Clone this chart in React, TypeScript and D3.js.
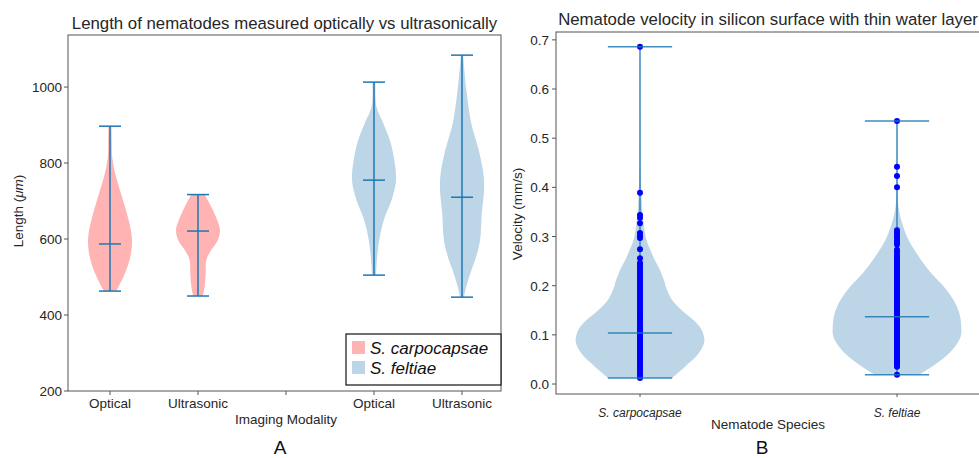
import React, { useEffect, useRef } from 'react';
import * as d3 from 'd3';

// Panel A: nematode length (um), violins at positions 1,2,4,5
const lengthTickLabels = ['Optical', 'Ultrasonic', '', 'Optical', 'Ultrasonic'];
const lengthPositions = [1, 2, 4, 5];
const lengthSpecies = ['S. carpocapsae', 'S. carpocapsae', 'S. feltiae', 'S. feltiae'];
const lengthMin = [463, 450, 505, 447];
const lengthMax = [897, 717, 1013, 1084];
const lengthMean = [587, 621, 755, 710];
// density profiles: [value, relative half width]
const optCarpoProfile: [number, number][] = [[463, 0.27], [474, 0.38], [510, 0.68], [553, 0.92], [597, 1], [642, 0.88], [685, 0.68], [729, 0.45], [773, 0.23], [816, 0.1], [860, 0.08], [897, 0.07]];
const usCarpoProfile: [number, number][] = [[450, 0.22], [474, 0.3], [510, 0.35], [545, 0.38], [571, 0.6], [597, 0.9], [624, 1], [650, 0.87], [685, 0.6], [717, 0.3]];
const optFeltiaeProfile: [number, number][] = [[505, 0.09], [563, 0.16], [616, 0.3], [659, 0.5], [703, 0.8], [755, 1], [816, 0.9], [860, 0.72], [905, 0.42], [948, 0.11], [1013, 0.07]];
const usFeltiaeProfile: [number, number][] = [[447, 0.09], [474, 0.19], [510, 0.38], [553, 0.64], [597, 0.82], [668, 0.9], [729, 1], [773, 0.97], [834, 0.76], [905, 0.42], [992, 0.2], [1084, 0.05]];
const lengthProfiles = [optCarpoProfile, usCarpoProfile, optFeltiaeProfile, usFeltiaeProfile];
const lengthYTicks = [200, 400, 600, 800, 1000];

// Panel B: velocity (mm/s)
const speciesNames = ['S. carpocapsae', 'S. feltiae'];
const velocityMin = [0.012, 0.019];
const velocityMax = [0.686, 0.535];
const velocityMean = [0.104, 0.137];
const carpoProfile: [number, number][] = [[0.012, 0.5], [0.035, 0.7], [0.062, 0.91], [0.086, 1], [0.11, 0.96], [0.13, 0.83], [0.15, 0.65], [0.171, 0.5], [0.191, 0.42], [0.212, 0.37], [0.232, 0.31], [0.252, 0.23], [0.273, 0.16], [0.293, 0.1], [0.313, 0.07], [0.348, 0.04], [0.388, 0.02], [0.45, 0.008], [0.55, 0.003], [0.686, 0.001]];
const feltiaeProfile: [number, number][] = [[0.019, 0.35], [0.042, 0.62], [0.069, 0.86], [0.096, 0.99], [0.117, 1], [0.144, 0.97], [0.171, 0.88], [0.198, 0.73], [0.226, 0.53], [0.259, 0.34], [0.293, 0.18], [0.327, 0.08], [0.354, 0.03], [0.381, 0.01], [0.42, 0.004], [0.535, 0.001]];
const carpoVelocities = [0.686, 0.389, 0.344, 0.338, 0.327, 0.307, 0.301, 0.297, 0.274, 0.256,
  0.246, 0.242, 0.237, 0.233, 0.229, 0.224, 0.22, 0.215, 0.211, 0.207, 0.202, 0.198, 0.194, 0.189,
  0.185, 0.181, 0.177, 0.172, 0.168, 0.164, 0.159, 0.155, 0.151, 0.146, 0.142, 0.138, 0.134, 0.13,
  0.125, 0.121, 0.117, 0.113, 0.109, 0.105, 0.101, 0.097, 0.093, 0.089, 0.085, 0.081, 0.077, 0.073,
  0.069, 0.065, 0.061, 0.057, 0.053, 0.049, 0.045, 0.041, 0.037, 0.033, 0.029, 0.025, 0.021, 0.017, 0.012];
const feltiaeVelocities = [0.535, 0.442, 0.423, 0.4, 0.313, 0.308, 0.303, 0.298, 0.293, 0.288, 0.284,
  0.273, 0.269, 0.265, 0.26, 0.256, 0.252, 0.247, 0.243, 0.239, 0.234, 0.23, 0.226, 0.222, 0.217,
  0.213, 0.209, 0.204, 0.2, 0.196, 0.191, 0.187, 0.183, 0.179, 0.174, 0.17, 0.166, 0.161, 0.157,
  0.153, 0.149, 0.144, 0.14, 0.136, 0.132, 0.127, 0.123, 0.119, 0.115, 0.11, 0.106, 0.102, 0.098,
  0.093, 0.089, 0.085, 0.081, 0.076, 0.072, 0.068, 0.064, 0.059, 0.055, 0.051, 0.047, 0.043, 0.039, 0.035, 0.019];
const velocityData = [carpoVelocities, feltiaeVelocities];
const velocityProfiles = [carpoProfile, feltiaeProfile];
const velocityYTicks = [0, 0.1, 0.2, 0.3, 0.4, 0.5, 0.6, 0.7];

const FONT = '"Liberation Sans", Arial, sans-serif';
const TXT = '#262626';
const SPINE = '#555';
const LINE = '#1f77b4';
const PINK = '#ffb3b3';
const BLUE = '#bcd6e8';

const App: React.FC = () => {
  const ref = useRef<SVGSVGElement>(null);

  useEffect(() => {
    if (!ref.current) return;
    const svg = d3.select(ref.current);
    svg.selectAll('*').remove();
    svg.style('font-family', FONT);

    const violinPath = (profile: [number, number][], cx: number, hw: number, y: d3.ScaleLinear<number, number>) =>
      d3.area<[number, number]>()
        .y(d => y(d[0]))
        .x0(d => cx - d[1] * hw)
        .x1(d => cx + d[1] * hw)
        .curve(d3.curveCatmullRom.alpha(0.5))(profile);

    // ---------- Panel A ----------
    const aL = 68, aR = 501, aT = 35, aB = 391;
    const xA = d3.scaleLinear().domain([1, 5]).range([110, 462]);
    const yA = d3.scaleLinear().domain([200, 1137]).range([aB, aT]);
    const gA = svg.append('g');
    const hwA = 0.25 * (xA(2) - xA(1));

    lengthPositions.forEach((p, i) => {
      const cx = xA(p);
      const fill = lengthSpecies[i] === 'S. carpocapsae' ? PINK : BLUE;
      gA.append('path').attr('d', violinPath(lengthProfiles[i], cx, hwA, yA)).attr('fill', fill);
      gA.append('line').attr('x1', cx).attr('x2', cx).attr('y1', yA(lengthMin[i])).attr('y2', yA(lengthMax[i]))
        .attr('stroke', LINE).attr('stroke-width', 1.5);
      [lengthMin[i], lengthMax[i], lengthMean[i]].forEach(v => {
        gA.append('line').attr('x1', cx - hwA / 2).attr('x2', cx + hwA / 2).attr('y1', yA(v)).attr('y2', yA(v))
          .attr('stroke', LINE).attr('stroke-width', 1.5);
      });
    });

    gA.append('rect').attr('x', aL).attr('y', aT).attr('width', aR - aL).attr('height', aB - aT)
      .attr('fill', 'none').attr('stroke', SPINE).attr('stroke-width', 1);

    lengthYTicks.forEach(t => {
      gA.append('line').attr('x1', aL - 4).attr('x2', aL).attr('y1', yA(t)).attr('y2', yA(t)).attr('stroke', SPINE);
      gA.append('text').attr('x', aL - 6).attr('y', yA(t) + 5).attr('text-anchor', 'end')
        .style('font-size', '13.5px').attr('fill', TXT).text(t);
    });
    lengthTickLabels.forEach((lab, i) => {
      const x = xA(i + 1);
      gA.append('line').attr('x1', x).attr('x2', x).attr('y1', aB).attr('y2', aB + 4).attr('stroke', SPINE);
      gA.append('text').attr('x', x).attr('y', 408).attr('text-anchor', 'middle')
        .style('font-size', '13.5px').attr('fill', TXT).text(lab);
    });
    gA.append('text').attr('x', 286).attr('y', 424).attr('text-anchor', 'middle')
      .style('font-size', '13.5px').attr('fill', TXT).text('Imaging Modality');
    const yl = gA.append('text').attr('transform', 'translate(23,211) rotate(-90)').attr('text-anchor', 'middle')
      .style('font-size', '13.5px').attr('fill', TXT);
    yl.append('tspan').text('Length (');
    yl.append('tspan').style('font-style', 'italic').text('\u03bcm');
    yl.append('tspan').text(')');
    gA.append('text').attr('x', (aL + aR) / 2).attr('y', 29).attr('text-anchor', 'middle')
      .style('font-size', '16.8px').attr('fill', TXT).text('Length of nematodes measured optically vs ultrasonically');
    gA.append('text').attr('x', 280).attr('y', 454).attr('text-anchor', 'middle')
      .style('font-size', '19px').attr('fill', '#111').text('A');

    // legend
    const lg = gA.append('g');
    lg.append('rect').attr('x', 346).attr('y', 334).attr('width', aR - 346).attr('height', 51)
      .attr('fill', 'white').attr('stroke', '#111').attr('stroke-width', 1.2);
    [['S. carpocapsae', PINK], ['S. feltiae', BLUE]].forEach(([name, col], i) => {
      lg.append('rect').attr('x', 352).attr('y', 341 + i * 20).attr('width', 13).attr('height', 13).attr('fill', col);
      lg.append('text').attr('x', 370).attr('y', 354 + i * 20).style('font-size', '17px')
        .style('font-style', 'italic').attr('fill', '#111').text(name);
    });

    // ---------- Panel B ----------
    const bL = 556, bR = 981, bT = 32, bB = 394;
    const xB = d3.scaleLinear().domain([1, 2]).range([640, 897]);
    const yB = d3.scaleLinear().domain([-0.0203, 0.716]).range([bB, bT]);
    const gB = svg.append('g');
    const hwB = 0.25 * (xB(2) - xB(1));

    speciesNames.forEach((_, i) => {
      const cx = xB(i + 1);
      gB.append('path').attr('d', violinPath(velocityProfiles[i], cx, hwB, yB)).attr('fill', BLUE);
      gB.append('line').attr('x1', cx).attr('x2', cx).attr('y1', yB(velocityMin[i])).attr('y2', yB(velocityMax[i]))
        .attr('stroke', LINE).attr('stroke-width', 1.5).attr('opacity', 0.85);
      gB.selectAll(null).data(velocityData[i]).enter().append('circle')
        .attr('cx', cx).attr('cy', d => yB(d)).attr('r', 3).attr('fill', '#0000ff');
      [velocityMin[i], velocityMax[i], velocityMean[i]].forEach(v => {
        gB.append('line').attr('x1', cx - hwB / 2).attr('x2', cx + hwB / 2).attr('y1', yB(v)).attr('y2', yB(v))
          .attr('stroke', LINE).attr('stroke-width', 1.5).attr('opacity', 0.85);
      });
    });

    gB.append('rect').attr('x', bL).attr('y', bT).attr('width', bR - bL).attr('height', bB - bT)
      .attr('fill', 'none').attr('stroke', SPINE).attr('stroke-width', 1);
    velocityYTicks.forEach(t => {
      gB.append('line').attr('x1', bL - 4).attr('x2', bL).attr('y1', yB(t)).attr('y2', yB(t)).attr('stroke', SPINE);
      gB.append('text').attr('x', bL - 7).attr('y', yB(t) + 5).attr('text-anchor', 'end')
        .style('font-size', '13.5px').attr('fill', TXT).text(t.toFixed(1));
    });
    speciesNames.forEach((name, i) => {
      const x = xB(i + 1);
      gB.append('line').attr('x1', x).attr('x2', x).attr('y1', bB).attr('y2', bB + 3).attr('stroke', SPINE);
      gB.append('text').attr('x', x).attr('y', 417).attr('text-anchor', 'middle')
        .style('font-size', '12px').style('font-style', 'italic').attr('fill', TXT).text(name);
    });
    gB.append('text').attr('x', 768).attr('y', 429).attr('text-anchor', 'middle')
      .style('font-size', '13.5px').attr('fill', TXT).text('Nematode Species');
    gB.append('text').attr('transform', 'translate(522,214) rotate(-90)').attr('text-anchor', 'middle')
      .style('font-size', '13.5px').attr('fill', TXT).text('Velocity (mm/s)');
    gB.append('text').attr('x', 768).attr('y', 25).attr('text-anchor', 'middle')
      .style('font-size', '16.8px').attr('fill', TXT).text('Nematode velocity in silicon surface with thin water layer');
    gB.append('text').attr('x', 762).attr('y', 454).attr('text-anchor', 'middle')
      .style('font-size', '19px').attr('fill', '#111').text('B');
  }, []);

  return <svg ref={ref} width={979} height={458} style={{ position: 'absolute', left: 0, top: 0, background: 'white' }} />;
};

export default App;
